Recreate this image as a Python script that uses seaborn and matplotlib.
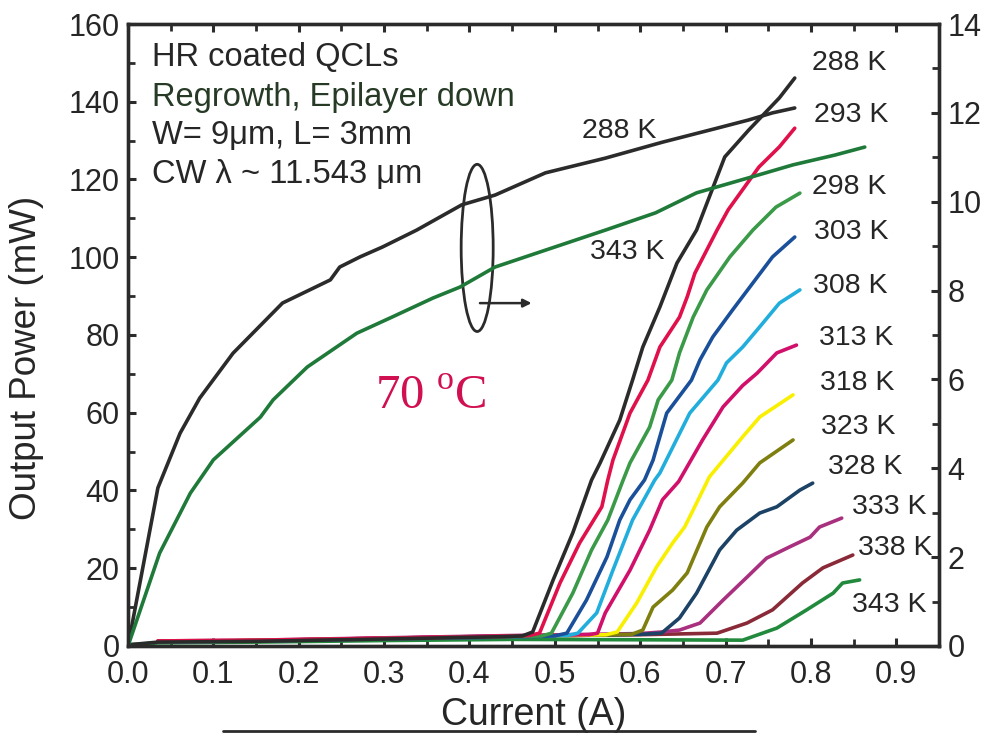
import numpy as np
import pandas as pd
import matplotlib
matplotlib.use("Agg")
import matplotlib.pyplot as plt
from matplotlib.patches import Ellipse
from matplotlib.lines import Line2D
import seaborn as sns

# ---------------- data ----------------
# Voltage (right axis, V) vs current (A)
I_V288 = [0.0, 0.035, 0.061, 0.084, 0.123, 0.181, 0.237, 0.248, 0.272, 0.298, 0.338, 0.391, 0.430,
          0.489, 0.559, 0.626, 0.691, 0.727, 0.755, 0.781]
V_288 = [0.0, 3.56, 4.79, 5.58, 6.59, 7.72, 8.24, 8.53, 8.76, 8.98, 9.36, 9.93, 10.15,
         10.65, 10.98, 11.34, 11.66, 11.84, 12.00, 12.11]
I_V343 = [0.0, 0.037, 0.073, 0.100, 0.155, 0.170, 0.210, 0.268, 0.310, 0.357, 0.389, 0.430, 0.489,
          0.559, 0.618, 0.666, 0.731, 0.779, 0.828, 0.863]
V_343 = [0.0, 2.09, 3.44, 4.19, 5.15, 5.54, 6.28, 7.04, 7.41, 7.83, 8.08, 8.53, 8.91,
         9.36, 9.75, 10.20, 10.56, 10.83, 11.05, 11.23]

# Output power (left axis, mW) vs current (A)
I_288 = [0.0, 0.035, 0.15, 0.30, 0.44, 0.462, 0.474, 0.498, 0.521, 0.543, 0.553, 0.576, 0.591, 0.603,
         0.623, 0.643, 0.666, 0.699, 0.727, 0.763, 0.781]
P_288 = [0.3, 1.0, 1.2, 1.8, 2.4, 2.6, 3.6, 17.0, 29.1, 42.7, 47.1, 58.1, 68.4, 76.9,
         87.2, 98.5, 107.0, 125.8, 132.7, 141.0, 146.1]
I_293 = [0.035, 0.15, 0.30, 0.45, 0.47, 0.482, 0.506, 0.529, 0.555, 0.562, 0.568, 0.588, 0.609, 0.623,
         0.646, 0.655, 0.664, 0.690, 0.703, 0.739, 0.763, 0.781]
P_293 = [1.3, 1.5, 2.0, 2.5, 2.7, 3.3, 16.2, 26.5, 35.8, 42.7, 47.8, 59.9, 68.4, 76.9,
         84.6, 89.8, 95.9, 107.0, 112.2, 123.2, 128.4, 133.2]
I_298 = [0.035, 0.15, 0.30, 0.45, 0.485, 0.496, 0.521, 0.543, 0.562, 0.580, 0.588, 0.611, 0.621, 0.637,
         0.646, 0.662, 0.678, 0.705, 0.732, 0.759, 0.787]
P_298 = [1.1, 1.4, 1.9, 2.4, 2.6, 3.3, 13.6, 24.7, 32.4, 42.7, 47.1, 56.3, 63.3, 68.4,
         75.4, 84.6, 91.6, 100.1, 107.0, 112.9, 116.5]
I_303 = [0.035, 0.15, 0.30, 0.45, 0.50, 0.514, 0.537, 0.561, 0.576, 0.588, 0.605, 0.615, 0.631, 0.660,
         0.670, 0.685, 0.708, 0.732, 0.755, 0.781]
P_303 = [1.2, 1.3, 1.8, 2.3, 2.6, 3.3, 11.8, 22.9, 32.4, 37.6, 42.7, 47.8, 59.9, 68.4,
         73.6, 79.5, 86.4, 93.4, 100.1, 105.2]
I_308 = [0.035, 0.15, 0.30, 0.45, 0.515, 0.527, 0.549, 0.568, 0.591, 0.617, 0.623, 0.658, 0.691, 0.701,
         0.720, 0.740, 0.763, 0.787]
P_308 = [1.0, 1.3, 1.9, 2.4, 2.7, 3.3, 8.5, 19.5, 32.4, 42.7, 44.5, 59.9, 68.4, 72.8,
         76.9, 82.1, 88.2, 91.6]
I_313 = [0.035, 0.15, 0.30, 0.45, 0.54, 0.550, 0.559, 0.588, 0.611, 0.626, 0.645, 0.673, 0.697, 0.720,
         0.737, 0.760, 0.783]
P_313 = [1.1, 1.4, 2.0, 2.6, 2.9, 3.3, 8.5, 19.5, 29.8, 37.6, 42.3, 53.0, 61.5, 67.0,
         70.2, 75.4, 77.4]
I_318 = [0.035, 0.15, 0.30, 0.45, 0.56, 0.573, 0.596, 0.619, 0.638, 0.652, 0.662, 0.681, 0.720, 0.740, 0.779]
P_318 = [1.2, 1.4, 1.9, 2.5, 2.9, 3.6, 11.1, 20.3, 26.5, 30.6, 35.0, 43.5, 53.8, 58.9, 64.6]
I_323 = [0.035, 0.15, 0.30, 0.45, 0.59, 0.603, 0.615, 0.638, 0.655, 0.670, 0.678, 0.693, 0.720, 0.740, 0.779]
P_323 = [1.0, 1.3, 1.8, 2.4, 3.0, 4.1, 10.0, 14.4, 18.8, 26.5, 30.6, 35.8, 41.9, 47.1, 53.0]
I_328 = [0.035, 0.15, 0.30, 0.45, 0.60, 0.625, 0.646, 0.666, 0.693, 0.713, 0.740, 0.760, 0.787, 0.802]
P_328 = [1.1, 1.3, 1.9, 2.5, 3.0, 3.3, 7.2, 13.6, 24.7, 29.8, 34.2, 35.8, 40.1, 41.9]
I_333 = [0.035, 0.15, 0.30, 0.45, 0.60, 0.625, 0.646, 0.670, 0.697, 0.725, 0.748, 0.775, 0.799, 0.810, 0.836]
P_333 = [1.3, 1.5, 2.1, 2.7, 3.2, 3.6, 4.1, 5.9, 11.8, 17.7, 22.6, 25.5, 28.0, 30.6, 32.9]
I_338 = [0.035, 0.15, 0.30, 0.45, 0.60, 0.690, 0.725, 0.755, 0.790, 0.814, 0.849]
P_338 = [1.0, 1.4, 2.0, 2.6, 2.9, 3.3, 5.9, 9.3, 16.2, 20.1, 23.4]
I_343 = [0.0, 0.035, 0.15, 0.30, 0.45, 0.60, 0.720, 0.760, 0.795, 0.826, 0.837, 0.857]
P_343 = [0.3, 0.8, 1.0, 1.4, 1.7, 1.6, 1.5, 4.6, 9.3, 13.6, 16.2, 17.0]

temps = ["288 K", "293 K", "298 K", "303 K", "308 K", "313 K", "318 K", "323 K",
         "328 K", "333 K", "338 K", "343 K"]
colors = ["#2b2b2b", "#e0104a", "#3a9a48", "#1a4f9a", "#22aedc", "#d0106a", "#f8f000",
          "#7f7f10", "#1c4266", "#a8307e", "#8a2a38", "#228a3c"]
label_x = [0.801, 0.803, 0.801, 0.804, 0.802, 0.809, 0.810, 0.812, 0.820, 0.848, 0.855, 0.848]
label_y = [149.9, 136.6, 118.1, 106.5, 92.6, 79.2, 67.6, 56.4, 46.0, 35.7, 25.2, 10.5]

x_ticks = [0.0, 0.1, 0.2, 0.3, 0.4, 0.5, 0.6, 0.7, 0.8, 0.9]
y_ticks = [0, 20, 40, 60, 80, 100, 120, 140, 160]
v_ticks = [0, 2, 4, 6, 8, 10, 12, 14]

info_lines = ["HR coated QCLs", "Regrowth, Epilayer down", "W= 9\u03bcm, L= 3mm",
              "CW \u03bb ~ 11.543 \u03bcm"]
info_y = [151.3, 141.2, 131.2, 121.4]

# ---------------- style ----------------
sns.set_style("ticks")
plt.rcParams["font.family"] = ["Liberation Sans", "DejaVu Sans"]
plt.rcParams["mathtext.fontset"] = "custom"
plt.rcParams["mathtext.rm"] = "Liberation Serif"
TXT = "#262626"

fig = plt.figure(figsize=(9.87, 7.34), dpi=100)
ax = fig.add_axes([0.1297, 0.1199, 0.9514 - 0.1297, 0.9673 - 0.1199])
ax2 = ax.twinx()

LW = 2.6
curves_I = [I_288, I_293, I_298, I_303, I_308, I_313, I_318, I_323, I_328, I_333, I_338, I_343]
curves_P = [P_288, P_293, P_298, P_303, P_308, P_313, P_318, P_323, P_328, P_333, P_338, P_343]
for I, P, c in zip(curves_I[::-1], curves_P[::-1], colors[::-1]):
    df = pd.DataFrame({"I": I, "P": P})
    sns.lineplot(data=df, x="I", y="P", ax=ax, color=c, lw=LW, sort=False, estimator=None)

dfv1 = pd.DataFrame({"I": I_V288, "V": V_288})
dfv2 = pd.DataFrame({"I": I_V343, "V": V_343})
sns.lineplot(data=dfv1, x="I", y="V", ax=ax2, color="#2b2b2b", lw=LW, sort=False, estimator=None)
sns.lineplot(data=dfv2, x="I", y="V", ax=ax2, color="#1f7a3a", lw=LW, sort=False, estimator=None)

ax.set_xlim(0, 0.95)
ax.set_ylim(0, 160)
ax2.set_ylim(0, 14)

ax.set_xticks(x_ticks)
ax.set_xticklabels([f"{v:.1f}" for v in x_ticks])
ax.set_xticks(np.arange(0.05, 0.95, 0.1), minor=True)
ax.set_yticks(y_ticks)
ax.set_yticks(np.arange(10, 160, 20), minor=True)
ax2.set_yticks(v_ticks)
ax2.set_yticks(np.arange(1, 14, 2), minor=True)

for a in (ax, ax2):
    for s in a.spines.values():
        s.set_linewidth(2.4)
        s.set_color("#2b2b2b")
        s.set_visible(True)

ax.tick_params(axis="both", which="both", direction="in", top=True, right=False,
               labelsize=22, colors="#2b2b2b", labelcolor=TXT)
ax.tick_params(axis="both", which="major", length=6, width=2.2)
ax.tick_params(axis="both", which="minor", length=5, width=2.0)
ax.tick_params(axis="x", which="major", pad=10)
ax.tick_params(axis="y", which="major", pad=6)
ax2.tick_params(axis="y", which="both", direction="in", labelsize=22, colors="#2b2b2b",
                labelcolor=TXT)
ax2.tick_params(axis="y", which="major", length=6, width=2.2, pad=6)
ax2.tick_params(axis="y", which="minor", length=5, width=2.0)

ax.set_xlabel("Current (A)", fontsize=27, color=TXT)
ax.set_ylabel("Output Power (mW)", fontsize=26.5, color=TXT)
ax.xaxis.set_label_coords(0.5, -0.082)
ax.yaxis.set_label_coords(-0.104, 0.463)
ax2.set_ylabel("")
ax2.set_xlabel("")

# temperature labels
for t, lx, ly in zip(temps, label_x, label_y):
    ax.text(lx, ly, t, fontsize=20.5, color=TXT, ha="left", va="center")
ax.text(0.532, 132.4, "288 K", fontsize=20.5, color=TXT, ha="left", va="center")
ax.text(0.541, 101.3, "343 K", fontsize=20.5, color=TXT, ha="left", va="center")

for s, yy in zip(info_lines, info_y):
    col = "#263a26" if s.startswith("Regrowth") else TXT
    ax.text(0.028, yy, s, fontsize=23.5, color=col, ha="left", va="center")

ax.text(0.355, 64.4, "70 $^{\\mathrm{o}}$C", fontsize=35, color="#d01050",
        ha="center", va="center", family=["Liberation Serif", "DejaVu Serif"])

ell = Ellipse((0.409, 102.4), 0.0375, 43, fill=False, lw=2.0, ec="#2b2b2b")
ax.add_patch(ell)
ax.annotate("", xy=(0.476, 88.2), xytext=(0.409, 88.2),
            arrowprops=dict(arrowstyle="-|>", lw=1.8, color="#2b2b2b", mutation_scale=12))

# scan underline artifact
fig.add_artist(Line2D([0.226, 0.765], [0.0035, 0.0035], color="#2b2b2b", lw=2.0))

fig.savefig("out.png", dpi=100)
